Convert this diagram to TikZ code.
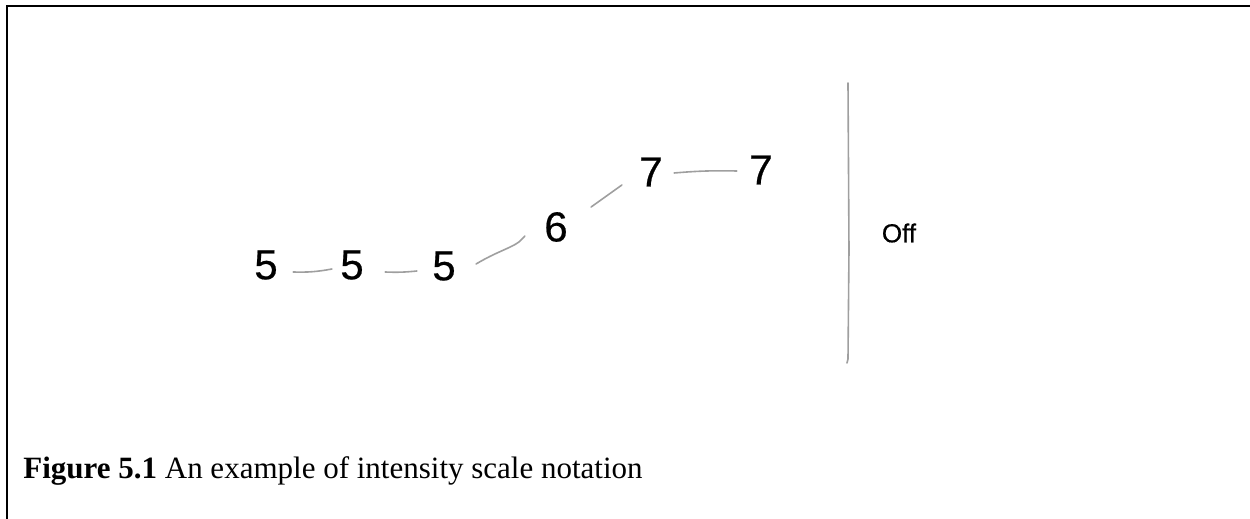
\documentclass[tikz,border=0pt]{standalone}
\usepackage{fontspec}
\setmainfont{Liberation Serif}
\newfontfamily\numfont[FakeBold=0.5]{Liberation Sans}
\usetikzlibrary{positioning}
\tikzstyle{num}=[font=\fontsize{21}{21}\selectfont\numfont, inner sep=0pt]
\tikzstyle{offlabel}=[font=\fontsize{13}{13}\selectfont\numfont, inner sep=0pt]
\tikzstyle{link}=[draw=gray!75, line width=0.8pt, line cap=round]
\tikzstyle{frame}=[line width=1.2pt]

\begin{document}
\begin{tikzpicture}[x=0.5pt, y=-0.5pt]

    \useasboundingbox (0,0) rectangle (1250,519);
    \draw[frame] (1250,6) -- (7,6) -- (7,519);

    \node[num] (five1) at (266,265) {5};
    \node[num] (five2) at (352,265) {5};
    \node[num] (five3) at (444,266) {5};
    \node[num] (six) at (556,227) {6};
    \node[num] (seven1) at (651,172) {7};
    \node[num] (seven2) at (761,170) {7};

    \draw[link] ([shift={(15,7)}]five1.east) to[bend right=6] ([shift={(-8,4)}]five2.west) ;
    \draw[link] ([shift={(21,7)}]five2.east) to[bend right=4] ([shift={(-15,5)}]five3.west) ;
    \draw[link] ([shift={(20,-2)}]five3.east) .. controls +(20,-12) and +(-8,6) .. ([shift={(-25,15)}]six.west) -- ([shift={(-19,9)}]six.west) ;
    \draw[link] ([shift={(23,-20)}]six.east) -- ([shift={(-17,13)}]seven1.west) ;
    \draw[link] ([shift={(11,1)}]seven1.east) to[bend left=3] ([shift={(-12,1)}]seven2.west) ;

    % separator
    \draw[link] (848,83) -- (849,250) -- (848,359) -- (847,363);
    \node[offlabel] (off) at (899,233) {Off};

    \node[anchor=base west, inner sep=0pt, font=\fontsize{15.5}{17}\selectfont] (caption) at (23,479)
        {\textbf{Figure 5.1} An example of intensity scale notation};
\end{tikzpicture}
\end{document}
